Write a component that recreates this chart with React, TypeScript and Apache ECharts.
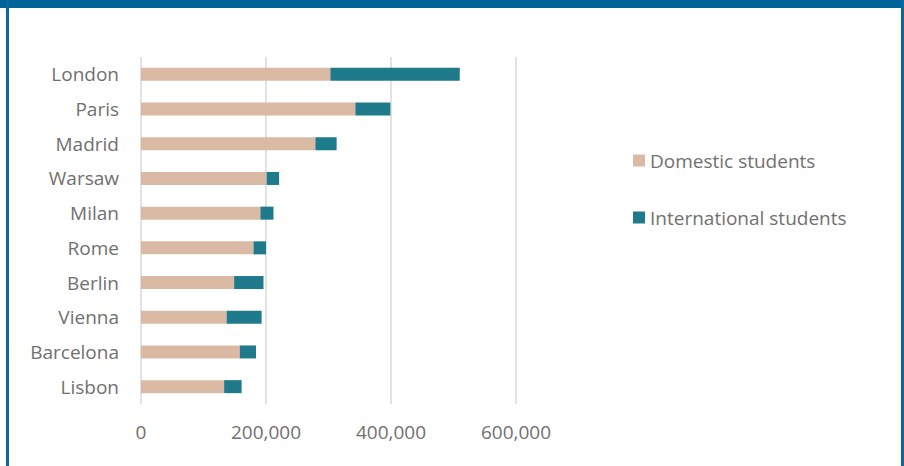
import React, { useEffect, useRef } from "react";
import * as echarts from "echarts";

const cities = ["London", "Paris", "Madrid", "Warsaw", "Milan", "Rome", "Berlin", "Vienna", "Barcelona", "Lisbon"];
const domestic = [303000, 343000, 279000, 201000, 191000, 180000, 149000, 137000, 158000, 133000];
const international = [207000, 56000, 34000, 20000, 21000, 20000, 47000, 56000, 26000, 28000];
const seriesNames = ["Domestic students", "International students"];
const xTicks = { min: 0, max: 600000, interval: 200000 };

const FONT = "'Open Sans', sans-serif";
const TEXT = "#707070";

export default function App() {
  const ref = useRef<HTMLDivElement>(null);
  useEffect(() => {
    if (!ref.current) return;
    const chart = echarts.init(ref.current, undefined, { renderer: "svg" });
    chart.setOption({
      animation: false,
      backgroundColor: "#ffffff",
      textStyle: { fontFamily: FONT },
      grid: { left: 141, top: 57, width: 375, height: 347, containLabel: false },
      legend: {
        orient: "vertical",
        left: 633,
        top: 151,
        padding: 0,
        itemWidth: 12,
        itemHeight: 12,
        itemGap: 38,
        icon: "rect",
        textStyle: { fontFamily: FONT, fontSize: 19, color: TEXT },
        data: seriesNames,
      },
      xAxis: {
        type: "value",
        min: xTicks.min,
        max: xTicks.max,
        interval: xTicks.interval,
        axisLine: { show: false },
        axisTick: { show: false },
        splitLine: { show: true, lineStyle: { color: "#d9d9d9", width: 1.5 } },
        axisLabel: {
          fontFamily: FONT,
          fontSize: 19,
          color: TEXT,
          margin: 18,
          formatter: (v: number) => v.toLocaleString("en-US"),
        },
      },
      yAxis: {
        type: "category",
        inverse: true,
        data: cities,
        axisLine: { show: false },
        axisTick: { show: false },
        axisLabel: { fontFamily: FONT, fontSize: 19, color: TEXT, margin: 22 },
      },
      series: [
        {
          name: seriesNames[0],
          type: "bar",
          stack: "total",
          barWidth: 13,
          data: domestic,
          itemStyle: { color: "#dbbaa5" },
        },
        {
          name: seriesNames[1],
          type: "bar",
          stack: "total",
          barWidth: 13,
          data: international,
          itemStyle: { color: "#1f7a8c" },
        },
      ],
      graphic: [
        { type: "rect", left: 0, top: 0, shape: { width: 904, height: 8 }, style: { fill: "#00649a" }, z: 100 },
        { type: "rect", left: 6, top: 0, shape: { width: 3, height: 466 }, style: { fill: "#0a6aa0" }, z: 100 },
        { type: "rect", left: 901, top: 0, shape: { width: 3, height: 466 }, style: { fill: "#0a6aa0" }, z: 100 },
      ],
    });
    return () => chart.dispose();
  }, []);
  return <div ref={ref} style={{ position: "absolute", left: 0, top: 0, width: 904, height: 466 }} />;
}
